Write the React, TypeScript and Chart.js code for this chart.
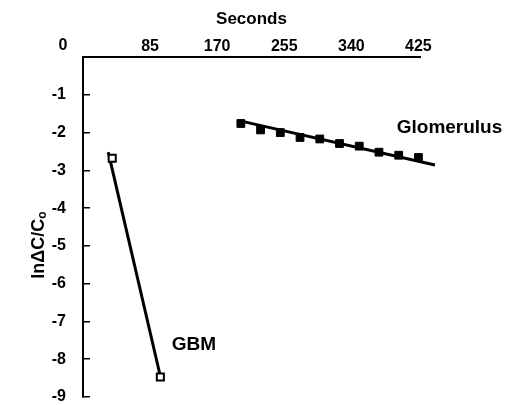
import React, { useEffect, useRef } from 'react';
import { Chart, registerables } from 'chart.js';

Chart.register(...registerables);

const FONT = "'Liberation Sans', Arial, Helvetica, sans-serif";

// Glomerulus measurements (seconds, ln ΔC/Co)
const glomSeconds = [200, 225, 250, 275, 300, 325, 350, 375, 400, 425];
const glomLnRatio = [-1.76, -1.93, -2.0, -2.13, -2.17, -2.29, -2.36, -2.52, -2.6, -2.66];
// Glomerulus regression line end points
const glomFitSeconds = [199, 446];
const glomFitLnRatio = [-1.69, -2.86];

// GBM measurements
const gbmSeconds = [37, 98];
const gbmLnRatio = [-2.68, -8.47];
// GBM regression line end points
const gbmFitSeconds = [32, 98];
const gbmFitLnRatio = [-2.52, -8.45];

// Axis ranges / ticks
const xMin = 0;
const xMax = 427;
const xTickValues = [0, 85, 170, 255, 340, 425];
const yMin = -9;
const yMax = 0;
const yTickValues = [0, -1, -2, -3, -4, -5, -6, -7, -8, -9];

// Series name labels, anchored in data coordinates
const seriesNames = ['Glomerulus', 'GBM'];
const nameSeconds = [397.5, 112.5];
const nameLnRatio = [-1.86, -7.63];

const xTitle = 'Seconds';
const yTitleMain = 'ln\u0394C/C';
const yTitleSub = 'o';

const WIDTH = 520;
const HEIGHT = 405;

const toPoints = (xs: number[], ys: number[]) => xs.map((x, i) => ({ x, y: ys[i] }));

const zeroPadding = (s: any) => {
  s.paddingTop = 0;
  s.paddingBottom = 0;
  s.paddingLeft = 0;
  s.paddingRight = 0;
};

const annotatePlugin = {
  id: 'annotate',
  afterDraw(chart: any) {
    const { ctx, chartArea } = chart;
    const xs = chart.scales.x;
    const ys = chart.scales.y;
    ctx.save();
    ctx.fillStyle = '#000';

    // series names
    ctx.font = `bold 19px ${FONT}`;
    ctx.textAlign = 'left';
    ctx.textBaseline = 'middle';
    seriesNames.forEach((name, i) => {
      ctx.fillText(name, xs.getPixelForValue(nameSeconds[i]), ys.getPixelForValue(nameLnRatio[i]));
    });

    // shared origin label "0"
    ctx.font = `bold 16px ${FONT}`;
    ctx.textAlign = 'center';
    ctx.fillText('0', xs.getPixelForValue(0) - 20, xs.bottom - 11);

    // y axis title with subscript
    ctx.translate(chartArea.left - 45, (chartArea.top + chartArea.bottom) / 2 + 18);
    ctx.rotate(-Math.PI / 2);
    ctx.font = `bold 18px ${FONT}`;
    const w1 = ctx.measureText(yTitleMain).width;
    ctx.font = `bold 12px ${FONT}`;
    const w2 = ctx.measureText(yTitleSub).width;
    const start = -(w1 + w2) / 2;
    ctx.textAlign = 'left';
    ctx.textBaseline = 'alphabetic';
    ctx.font = `bold 18px ${FONT}`;
    ctx.fillText(yTitleMain, start, 6);
    ctx.font = `bold 12px ${FONT}`;
    ctx.fillText(yTitleSub, start + w1, 8);
    ctx.restore();
  },
};

export default function App() {
  const canvasRef = useRef<HTMLCanvasElement | null>(null);

  useEffect(() => {
    if (!canvasRef.current) return;
    const chart = new Chart(canvasRef.current, {
      type: 'scatter',
      data: {
        datasets: [
          {
            label: 'Glomerulus',
            data: toPoints(glomSeconds, glomLnRatio),
            pointStyle: 'rect',
            pointRadius: 5.5,
            backgroundColor: '#000',
            borderColor: '#000',
            borderWidth: 1,
            clip: false,
            order: 0,
          },
          {
            label: 'Glomerulus fit',
            data: toPoints(glomFitSeconds, glomFitLnRatio),
            showLine: true,
            pointRadius: 0,
            borderColor: '#000',
            borderWidth: 3,
            clip: false,
            order: 1,
          },
          {
            label: 'GBM',
            data: toPoints(gbmSeconds, gbmLnRatio),
            pointStyle: 'rect',
            pointRadius: 5,
            backgroundColor: '#fff',
            borderColor: '#000',
            borderWidth: 2,
            clip: false,
            order: 0,
          },
          {
            label: 'GBM fit',
            data: toPoints(gbmFitSeconds, gbmFitLnRatio),
            showLine: true,
            pointRadius: 0,
            borderColor: '#000',
            borderWidth: 3,
            clip: false,
            order: 1,
          },
        ] as any,
      },
      options: {
        animation: false,
        responsive: false,
        maintainAspectRatio: false,
        devicePixelRatio: 1,
        layout: { padding: { top: 0, left: 0, right: 100, bottom: 8 } },
        plugins: {
          legend: { display: false },
          tooltip: { enabled: false },
        },
        scales: {
          x: {
            type: 'linear',
            position: 'top',
            min: xMin,
            max: xMax,
            afterFit: (s: any) => {
              s.height = 57;
              zeroPadding(s);
            },
            afterBuildTicks: (s: any) => {
              s.ticks = xTickValues.map((value) => ({ value }));
            },
            border: { display: true, color: '#000', width: 2 },
            grid: { display: false, drawTicks: false, tickLength: 0 },
            ticks: {
              padding: 1,
              maxRotation: 0,
              autoSkip: false,
              color: '#000',
              font: { family: FONT, size: 16, weight: 'bold' },
              callback: (v: any) => (Number(v) === 0 ? '' : String(v)),
            },
            title: {
              display: true,
              text: xTitle,
              color: '#000',
              font: { family: FONT, size: 17, weight: 'bold' },
              padding: { top: 9, bottom: 0 },
            },
          },
          y: {
            type: 'linear',
            min: yMin,
            max: yMax,
            afterFit: (s: any) => {
              s.width = 83;
              zeroPadding(s);
            },
            afterBuildTicks: (s: any) => {
              s.ticks = yTickValues.map((value) => ({ value }));
            },
            border: { display: true, color: '#000', width: 2 },
            grid: {
              display: true,
              drawOnChartArea: false,
              drawTicks: true,
              tickLength: -7,
              color: '#000',
              lineWidth: 1.5,
            },
            ticks: {
              padding: 24,
              autoSkip: false,
              color: '#000',
              font: { family: FONT, size: 16, weight: 'bold' },
              callback: (v: any) => (Number(v) === 0 ? '' : String(v)),
            },
          },
        },
      } as any,
      plugins: [annotatePlugin],
    });
    return () => chart.destroy();
  }, []);

  return (
    <div style={{ position: 'absolute', left: 0, top: 0, width: WIDTH, height: HEIGHT, background: '#fff' }}>
      <canvas ref={canvasRef} width={WIDTH} height={HEIGHT} style={{ width: WIDTH, height: HEIGHT, display: 'block' }} />
    </div>
  );
}
